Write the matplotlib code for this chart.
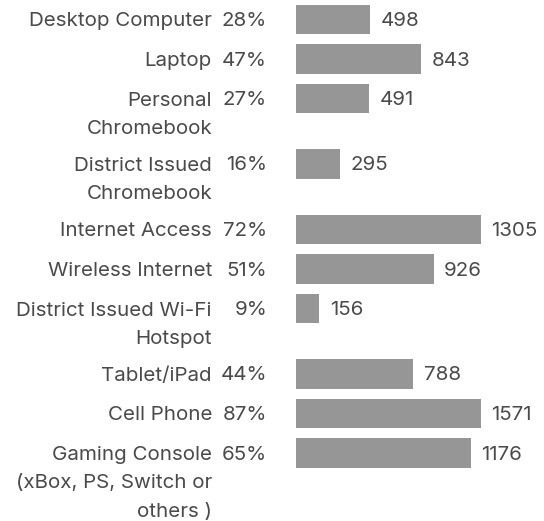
import matplotlib.pyplot as plt
from matplotlib.transforms import blended_transform_factory

categories = ['Desktop Computer', 'Laptop', 'Personal\nChromebook',
              'District Issued\nChromebook', 'Internet Access', 'Wireless Internet',
              'District Issued Wi-Fi\nHotspot', 'Tablet/iPad', 'Cell Phone',
              'Gaming Console\n(xBox, PS, Switch or\nothers )']
percents = [28, 47, 27, 16, 72, 51, 9, 44, 87, 65]
counts = [498, 843, 491, 295, 1305, 926, 156, 788, 1571, 1176]

plt.rcParams['font.family'] = ['Inter', 'DejaVu Sans']
TXT = '#4a4a4a'
FS = 14.8

fig = plt.figure(figsize=(5.44, 5.21), dpi=100)
ax = fig.add_axes([296 / 544, 0, 185 / 544, 1])

# row centres in pixels: 40px per row plus 26px for every extra label line
ys = []
y = 19.5
for c in categories:
    ys.append(y)
    y += 39.5 + 26 * c.count('\n')

xmax = 1245
ax.barh(ys, counts, height=29.5, color='#969696')
ax.set_xlim(0, xmax)
ax.set_ylim(521, 0)
ax.axis('off')

tr = blended_transform_factory(ax.transAxes, ax.transData)
for yy, c, p, n in zip(ys, categories, percents, counts):
    ax.text((212 - 296) / 185, yy - 7, c, transform=tr, ha='right', va='top',
            fontsize=FS, color=TXT, linespacing=1.74, clip_on=False)
    ax.text((267 - 296) / 185, yy + 6.5, f'{p}%', transform=tr, ha='right', va='baseline',
            fontsize=FS, color=TXT, clip_on=False)
    ax.annotate(str(n), xy=(min(n, xmax), yy + 6.5), xytext=(7.5, 0), textcoords='offset points',
                ha='left', va='baseline', fontsize=FS, color=TXT, annotation_clip=False)

fig.savefig('out.png', dpi=100)
